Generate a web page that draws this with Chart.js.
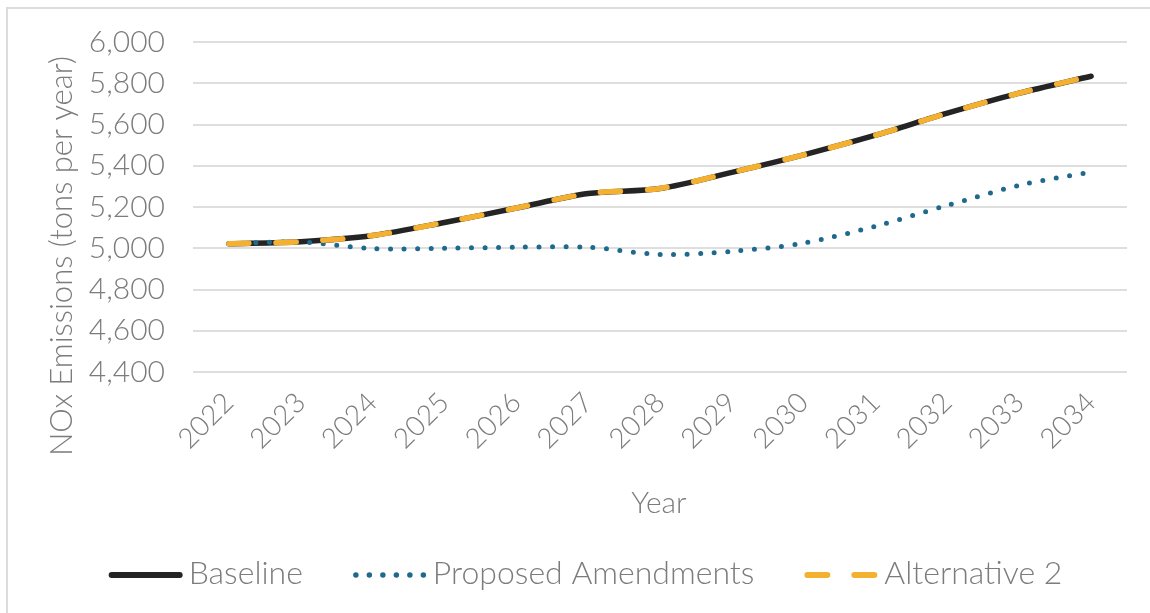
<!DOCTYPE html>
<html>
<head>
<meta charset="utf-8">
<script src="https://cdn.jsdelivr.net/npm/chart.js@4.4.1/dist/chart.umd.min.js"></script>
<style>
html,body{margin:0;padding:0;background:#fff;overflow:hidden;}
#wrap{position:absolute;left:0;top:0;width:1150px;height:613px;}
#frame{position:absolute;left:6px;top:7px;width:1160px;height:620px;border:2px solid #dcdcdc;box-sizing:border-box;}
canvas{position:absolute;left:0;top:0;}
</style>
</head>
<body>
<div id="wrap"><div id="frame"></div><canvas id="c" width="1150" height="613"></canvas></div>
<script>
// ---- data ----
const years = ['2022','2023','2024','2025','2026','2027','2028','2029','2030','2031','2032','2033','2034'];
const baseline     = [5022, 5032, 5062, 5125, 5195, 5265, 5290, 5368, 5453, 5548, 5655, 5752, 5834];
const proposed     = [5022, 5030, 4998, 5000, 5005, 5005, 4970, 4985, 5025, 5107, 5208, 5305, 5370];
const alternative2 = [5022, 5032, 5062, 5125, 5195, 5265, 5290, 5368, 5453, 5548, 5655, 5752, 5834];
const seriesNames = ['Baseline', 'Proposed Amendments', 'Alternative 2'];
const yTicks = [4400, 4600, 4800, 5000, 5200, 5400, 5600, 5800, 6000];
const xTitle = 'Year';
const yTitle = 'NOx Emissions (tons per year)';

// ---- styles ----
const TEXT = '#7c7c7c';
const GRID = '#dedede';
const FONT = 'Lato';
const WEIGHT = 300;

const titlesPlugin = {
  id: 'titles',
  afterDraw(chart) {
    const ctx = chart.ctx;
    ctx.save();
    ctx.fillStyle = TEXT;
    ctx.textAlign = 'center';
    ctx.textBaseline = 'middle';
    ctx.font = WEIGHT + ' 31px ' + FONT;
    ctx.save();
    ctx.translate(62, 256);
    ctx.rotate(-Math.PI / 2);
    ctx.fillText(yTitle, 0, 0);
    ctx.restore();
    ctx.font = WEIGHT + ' 30px ' + FONT;
    const xs = chart.scales.x;
    ctx.fillText(xTitle, (xs.left + xs.right) / 2 - 1, 503);
    ctx.restore();

    // legend symbols drawn in each legend item's own box
    const lg = chart.legend;
    if (!lg || !lg.legendHitBoxes) return;
    lg.legendHitBoxes.forEach((hb, i) => {
      const item = lg.legendItems[i];
      const ds = chart.data.datasets[item.datasetIndex];
      const y = hb.top + hb.height / 2 + 1;
      const x0 = hb.left;
      ctx.save();
      ctx.strokeStyle = ds.borderColor;
      ctx.lineWidth = ds.borderWidth + 0.5;
      ctx.lineCap = 'round';
      ctx.setLineDash(ds.borderDash || []);
      ctx.beginPath();
      ctx.moveTo(x0 + 3, y);
      ctx.lineTo(x0 + 71, y);
      ctx.stroke();
      ctx.restore();
    });
  }
};

new Chart(document.getElementById('c'), {
  type: 'line',
  data: {
    labels: years,
    datasets: [
      {
        label: seriesNames[0], data: baseline, order: 3,
        borderColor: '#242424', backgroundColor: '#242424',
        borderWidth: 5.5, borderCapStyle: 'round', borderJoinStyle: 'round',
        pointRadius: 0, tension: 0.3, fill: false
      },
      {
        label: seriesNames[1], data: proposed, order: 2,
        borderColor: '#1f6a8c', backgroundColor: '#1f6a8c',
        borderWidth: 5, borderDash: [0, 13.5], borderCapStyle: 'round',
        pointRadius: 0, tension: 0.3, fill: false
      },
      {
        label: seriesNames[2], data: alternative2, order: 1,
        borderColor: '#f4b131', backgroundColor: '#f4b131',
        borderWidth: 5.5, borderDash: [20, 27], borderCapStyle: 'round',
        pointRadius: 0, tension: 0.3, fill: false
      }
    ]
  },
  options: {
    responsive: false,
    animation: false,
    devicePixelRatio: 1,
    layout: { padding: { left: 44, right: 23, top: 42, bottom: 13 } },
    plugins: {
      legend: {
        position: 'bottom',
        labels: {
          usePointStyle: true,
          pointStyle: 'line',
          pointStyleWidth: 64,
          boxHeight: 10,
          padding: 50,
          color: TEXT,
          font: { family: FONT, size: 32, weight: WEIGHT },
          sort: (a, b) => a.datasetIndex - b.datasetIndex,
          generateLabels(chart) {
            const items = Chart.defaults.plugins.legend.labels.generateLabels(chart);
            items.forEach(it => { it.strokeStyle = 'rgba(0,0,0,0)'; it.fillStyle = 'rgba(0,0,0,0)'; it.lineWidth = 0; });
            return items;
          }
        }
      },
      tooltip: { enabled: false }
    },
    scales: {
      x: {
        offset: true,
        grid: { display: false, drawTicks: false },
        border: { display: false },
        ticks: {
          color: TEXT, font: { family: FONT, size: 28, weight: WEIGHT },
          minRotation: 45, maxRotation: 45, padding: 14, autoSkip: false
        },
        title: { display: false },
        afterFit(scale) { scale.height = 136; }
      },
      y: {
        min: yTicks[0], max: yTicks[yTicks.length - 1],
        grid: { color: GRID, lineWidth: 2, drawTicks: false },
        border: { display: false },
        afterBuildTicks(scale) { scale.ticks = yTicks.map(v => ({ value: v })); },
        ticks: {
          color: TEXT, font: { family: FONT, size: 30, weight: WEIGHT }, padding: 28, autoSkip: false,
          callback: v => v.toLocaleString('en-US')
        },
        afterFit(scale) { scale.width = 149; scale.paddingTop = 0; scale.paddingBottom = 0; }
      }
    }
  },
  plugins: [titlesPlugin]
});
</script>
</body>
</html>
